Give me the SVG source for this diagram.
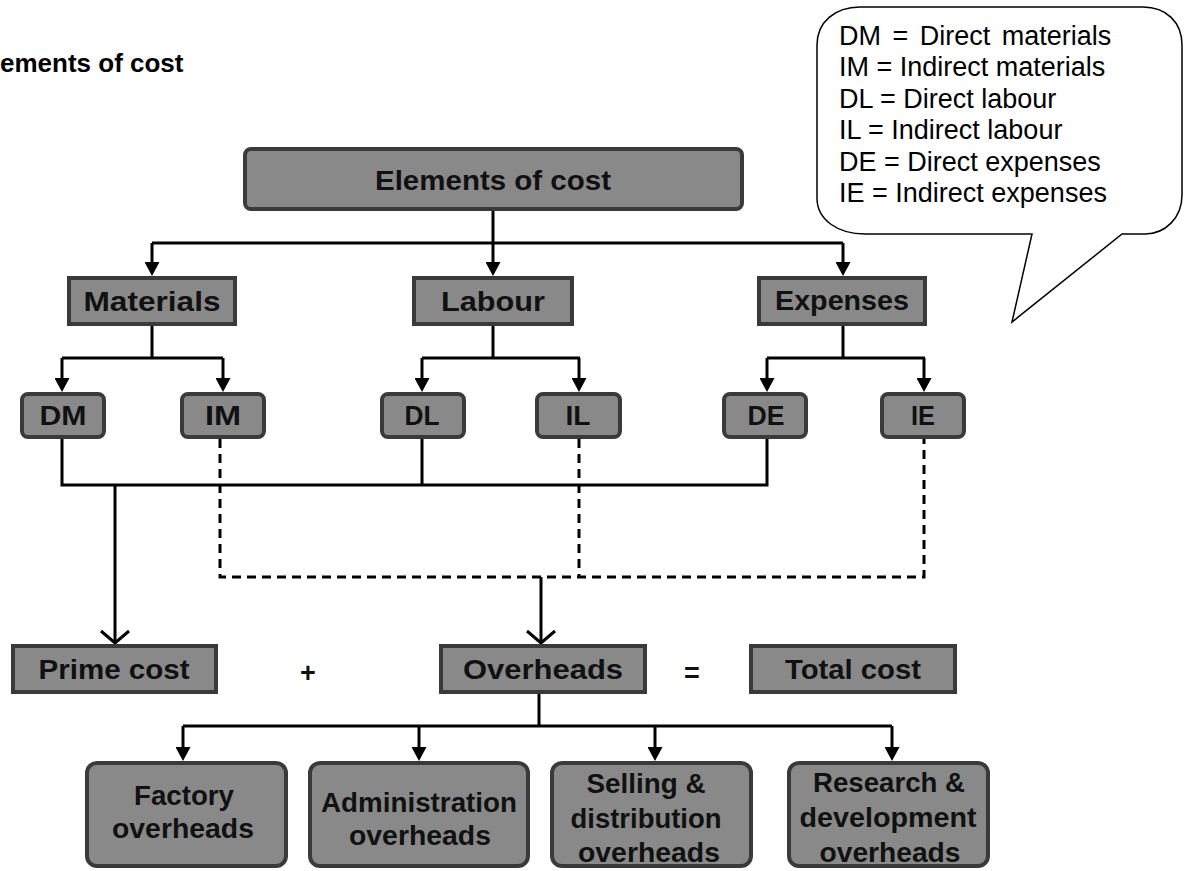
<svg xmlns="http://www.w3.org/2000/svg" width="1184" height="871" viewBox="0 0 1184 871">
<style>
.box{fill:#898989;stroke:#3a3a3a;stroke-width:4}
.lbl{font-family:"Liberation Sans",Arial,sans-serif;font-weight:bold;font-size:27px;fill:#111;text-anchor:middle}
.leg{font-family:"Liberation Sans",Arial,sans-serif;font-size:27px;fill:#000}
.ln{fill:none;stroke:#000;stroke-width:3}
.dash{stroke-dasharray:9 6}
.arr{marker-end:url(#tri)}
.opn{marker-end:url(#vee)}
</style>
<defs>
<marker id="tri" viewBox="0 0 14 15" refX="2" refY="7.5" markerWidth="14" markerHeight="15" markerUnits="userSpaceOnUse" orient="auto">
<path d="M0,0 L14,7.5 L0,15 Z" fill="#000"/>
</marker>
<marker id="vee" viewBox="-2 -2 18 32" refX="12" refY="14" markerWidth="18" markerHeight="32" markerUnits="userSpaceOnUse" orient="auto" overflow="visible">
<path d="M0,0 L12,14 L0,28" fill="none" stroke="#000" stroke-width="3"/>
</marker>
</defs>
<rect width="1184" height="871" fill="#fff"/>

<text x="0" y="72" style="font-family:'Liberation Sans',Arial,sans-serif;font-weight:bold;font-size:26px;fill:#000">ements of cost</text>

<g id="legend">
<path d="M1012,322 L1032,234 L865,234 C838,234 817,220 817,198 L817,45 C817,22 835,7 860,7 L1143,7 C1166,7 1182,22 1182,45 L1182,195 C1182,218 1165,234 1145,234 L1122,234 Z" fill="#fff" stroke="#000" stroke-width="1.5"/>
<text class="leg" x="839" y="45" word-spacing="4">DM = Direct materials</text>
<text class="leg" x="839" y="76">IM = Indirect materials</text>
<text class="leg" x="839" y="108">DL = Direct labour</text>
<text class="leg" x="839" y="139">IL = Indirect labour</text>
<text class="leg" x="839" y="171">DE = Direct expenses</text>
<text class="leg" x="839" y="202">IE = Indirect expenses</text>
</g>

<g id="connectors">
<path class="ln" d="M493,211 V243 M152,243 H843"/>
<path class="ln arr" d="M152,243 V264"/>
<path class="ln arr" d="M493,243 V264"/>
<path class="ln arr" d="M843,243 V264"/>
<path class="ln" d="M152,326 V358 M62,358 H223"/>
<path class="ln arr" d="M62,358 V380"/>
<path class="ln arr" d="M223,358 V380"/>
<path class="ln" d="M493,326 V358 M422,358 H580"/>
<path class="ln arr" d="M422,358 V380"/>
<path class="ln arr" d="M579,358 V380"/>
<path class="ln" d="M843,326 V358 M767,358 H925"/>
<path class="ln arr" d="M767,358 V380"/>
<path class="ln arr" d="M924,358 V380"/>
<path class="ln" d="M62,439 V485 H767 V439 M422,439 V485"/>
<path class="ln opn" d="M115,485 V643"/>
<path class="ln dash" d="M220,439 V577 H924 V439 M579,439 V577"/>
<path class="ln opn" d="M541,577 V643"/>
<path class="ln" d="M539,694 V726 M183,726 H892"/>
<path class="ln arr" d="M183,726 V749"/>
<path class="ln arr" d="M419,726 V749"/>
<path class="ln arr" d="M655,726 V749"/>
<path class="ln arr" d="M892,726 V749"/>
</g>

<g id="elements"><rect class="box" x="245" y="149" width="497" height="60" rx="6"/><text class="lbl" x="493" y="190" textLength="236" lengthAdjust="spacingAndGlyphs">Elements of cost</text></g>
<g id="materials"><rect class="box" x="69" y="278" width="166" height="46"/><text class="lbl" x="152" y="311" textLength="137" lengthAdjust="spacingAndGlyphs">Materials</text></g>
<g id="labour"><rect class="box" x="414" y="278" width="158" height="46"/><text class="lbl" x="493" y="311" textLength="104" lengthAdjust="spacingAndGlyphs">Labour</text></g>
<g id="expenses"><rect class="box" x="759" y="278" width="166" height="46"/><text class="lbl" x="842" y="310" textLength="134" lengthAdjust="spacingAndGlyphs">Expenses</text></g>

<g id="dm"><rect class="box" x="22" y="394" width="82" height="43" rx="6"/><text class="lbl" x="63" y="425" textLength="47" lengthAdjust="spacingAndGlyphs">DM</text></g>
<g id="im"><rect class="box" x="182" y="394" width="82" height="43" rx="6"/><text class="lbl" x="223" y="425" textLength="36" lengthAdjust="spacingAndGlyphs">IM</text></g>
<g id="dl"><rect class="box" x="382" y="394" width="82" height="43" rx="6"/><text class="lbl" x="422" y="425" textLength="35" lengthAdjust="spacingAndGlyphs">DL</text></g>
<g id="il"><rect class="box" x="537" y="394" width="83" height="43" rx="6"/><text class="lbl" x="578" y="425" textLength="25" lengthAdjust="spacingAndGlyphs">IL</text></g>
<g id="de"><rect class="box" x="724" y="394" width="82" height="43" rx="6"/><text class="lbl" x="766" y="425" textLength="37" lengthAdjust="spacingAndGlyphs">DE</text></g>
<g id="ie"><rect class="box" x="882" y="394" width="82" height="43" rx="6"/><text class="lbl" x="923" y="425" textLength="24" lengthAdjust="spacingAndGlyphs">IE</text></g>

<g id="prime"><rect class="box" x="13" y="646" width="203" height="46"/><text class="lbl" x="114" y="679" textLength="151" lengthAdjust="spacingAndGlyphs">Prime cost</text></g>
<text class="lbl" x="308" y="682">+</text>
<g id="overheads"><rect class="box" x="441" y="646" width="204" height="46"/><text class="lbl" x="543" y="679" textLength="160" lengthAdjust="spacingAndGlyphs">Overheads</text></g>
<text class="lbl" x="692" y="682">=</text>
<g id="total"><rect class="box" x="751" y="646" width="204" height="46"/><text class="lbl" x="853" y="679" textLength="136" lengthAdjust="spacingAndGlyphs">Total cost</text></g>

<g id="factory"><rect class="box" x="87" y="763" width="199" height="103" rx="10"/>
<text class="lbl" x="184" y="805" textLength="100" lengthAdjust="spacingAndGlyphs">Factory</text>
<text class="lbl" x="183" y="838" textLength="142" lengthAdjust="spacingAndGlyphs">overheads</text></g>
<g id="admin"><rect class="box" x="310" y="763" width="218" height="103" rx="10"/>
<text class="lbl" x="419" y="812" textLength="196" lengthAdjust="spacingAndGlyphs">Administration</text>
<text class="lbl" x="420" y="845" textLength="142" lengthAdjust="spacingAndGlyphs">overheads</text></g>
<g id="selling"><rect class="box" x="552" y="763" width="199" height="103" rx="10"/>
<text class="lbl" x="646" y="793" textLength="119" lengthAdjust="spacingAndGlyphs">Selling &amp;</text>
<text class="lbl" x="646" y="828" textLength="151" lengthAdjust="spacingAndGlyphs">distribution</text>
<text class="lbl" x="649" y="862" textLength="142" lengthAdjust="spacingAndGlyphs">overheads</text></g>
<g id="research"><rect class="box" x="789" y="763" width="199" height="103" rx="10"/>
<text class="lbl" x="889" y="792" textLength="152" lengthAdjust="spacingAndGlyphs">Research &amp;</text>
<text class="lbl" x="888" y="827" textLength="177" lengthAdjust="spacingAndGlyphs">development</text>
<text class="lbl" x="890" y="862" textLength="141" lengthAdjust="spacingAndGlyphs">overheads</text></g>
</svg>
